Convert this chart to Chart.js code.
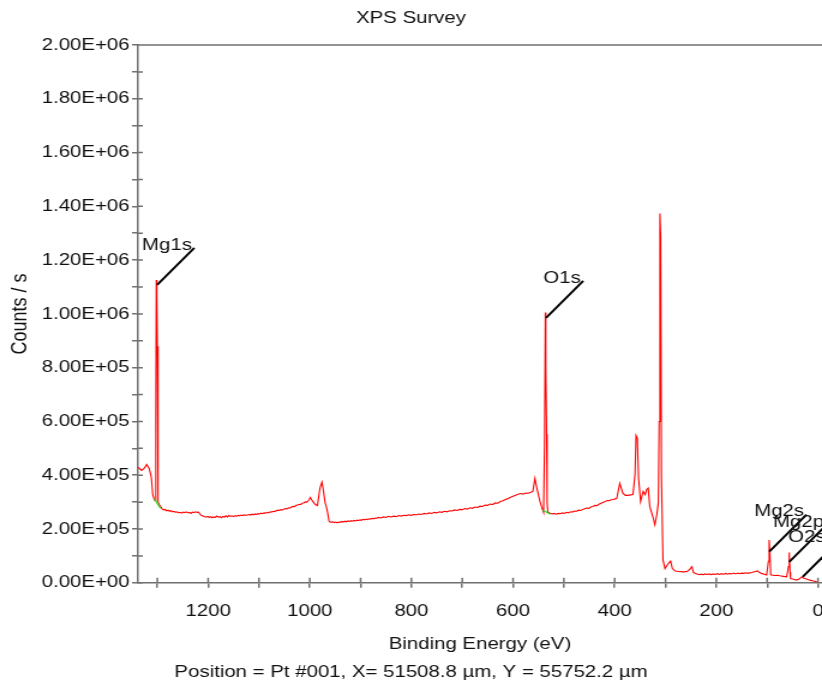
<!DOCTYPE html>
<html>
<head>
<meta charset="utf-8">
<title>XPS Survey</title>
<script src="https://cdn.jsdelivr.net/npm/chart.js@4/dist/chart.umd.min.js"></script>
<style>
  body { margin: 0; background: #fff; }
  /* the original picture is stretched sideways, so the canvas is too */
  #survey { display: block; width: 822px; height: 683px; }
</style>
</head>
<body>
<canvas id="survey" width="685" height="683" style="width:822px;height:683px"></canvas>
<script>
// binding energy (eV) and counts/s
var bindingEnergy = [
  1338, 1331, 1326, 1321, 1316, 1312, 1309, 1306, 1304.5, 1303, 1302, 1301, 1300, 1299, 1298, 1296,
  1291, 1288, 1285, 1282, 1279, 1276, 1273, 1270, 1267, 1264, 1261, 1258, 1255, 1252, 1249, 1246,
  1243, 1240, 1237, 1234, 1231, 1228, 1225, 1222, 1219, 1216, 1213, 1210, 1207, 1204, 1201, 1198,
  1195, 1192, 1189, 1186, 1183, 1180, 1177, 1174, 1171, 1168, 1165, 1162, 1159, 1156, 1153, 1150,
  1147, 1144, 1141, 1138, 1135, 1132, 1129, 1126, 1123, 1120, 1117, 1114, 1111, 1108, 1105, 1102,
  1099, 1096, 1093, 1090, 1087, 1084, 1081, 1078, 1075, 1072, 1069, 1066, 1063, 1060, 1057, 1054,
  1051, 1048, 1045, 1042, 1039, 1036, 1033, 1030, 1027, 1024, 1021, 1018, 1015, 1012, 1009, 1006,
  1003, 1001, 999, 996, 993, 989, 985, 980, 976, 974, 970, 966, 962, 958, 955, 952,
  949, 946, 943, 940, 937, 934, 931, 928, 925, 922, 919, 916, 913, 910, 907, 904,
  901, 898, 895, 892, 889, 886, 883, 880, 877, 874, 871, 868, 865, 860, 855, 850,
  845, 840, 835, 830, 825, 820, 815, 810, 805, 800, 795, 790, 785, 780, 775, 770,
  765, 760, 755, 750, 745, 740, 735, 730, 725, 720, 715, 710, 705, 700, 695, 690,
  685, 680, 675, 670, 665, 660, 655, 650, 645, 640, 635, 630, 625, 620, 615, 610,
  605, 600, 595, 590, 585, 580, 575, 570, 565, 561, 557, 553, 547, 542, 540, 538,
  536.5, 535.5, 534, 533, 531.5, 527, 523, 519, 515, 511, 507, 503, 499, 495, 491, 487,
  483, 479, 475, 471, 467, 463, 459, 455, 451, 447, 443, 439, 435, 431, 427, 423,
  419, 415, 411, 407, 403, 399, 396, 390, 384, 379, 374, 369, 364, 360, 358, 355.5,
  353, 349, 344, 340, 337, 334, 331, 324, 321, 317, 314, 312.5, 311, 309.5, 308, 305,
  301, 294.5, 290, 286.5, 281, 276, 272, 268, 265, 261, 258, 255, 252, 248, 245, 241,
  238, 234, 230, 226, 222, 218, 214, 210, 206, 202, 198, 194, 190, 186, 182, 178,
  174, 170, 166, 162, 158, 154, 150, 146, 142, 138, 134, 130, 127, 123, 119, 115,
  111, 106, 101, 97.5, 96, 94.5, 93, 86, 80, 75, 68, 61.5, 58, 56.5, 55, 54,
  48, 42, 37, 32, 29, 25.5, 20, 16, 9, 2.5, 0
];
var counts = [
  430000, 418000, 425000, 440000, 425000, 395000, 328000, 310000, 305000, 620000, 1126000, 1067000, 880000, 365000, 300000, 290000,
  276000, 271000, 273000, 268000, 270000, 266000, 268000, 264000, 266000, 262000, 264000, 260000, 262000, 259000, 263000, 261000,
  264000, 260000, 262000, 258000, 263000, 261000, 264000, 262000, 263000, 255000, 250000, 248000, 246000, 244000, 247000, 243000,
  246000, 242000, 245000, 243000, 248000, 244000, 246000, 242000, 247000, 244000, 249000, 245000, 250000, 247000, 249000, 246000,
  250000, 247000, 251000, 249000, 252000, 250000, 253000, 251000, 252000, 254000, 252000, 255000, 253000, 256000, 254000, 257000,
  256000, 259000, 257000, 260000, 259000, 262000, 260000, 264000, 263000, 266000, 265000, 268000, 270000, 269000, 272000, 271000,
  274000, 276000, 275000, 279000, 278000, 282000, 284000, 283000, 288000, 289000, 292000, 291000, 296000, 297000, 301000, 300000,
  305000, 310000, 317000, 308000, 300000, 291000, 287000, 352000, 374000, 352000, 300000, 272000, 228000, 225000, 227000, 224000,
  226000, 223000, 226000, 225000, 228000, 226000, 229000, 227000, 230000, 228000, 231000, 229000, 232000, 230000, 233000, 232000,
  234000, 233000, 236000, 234000, 237000, 235000, 238000, 237000, 240000, 238000, 241000, 240000, 243000, 241000, 245000, 243000,
  247000, 245000, 248000, 246000, 250000, 248000, 251000, 250000, 253000, 251000, 254000, 253000, 256000, 254000, 258000, 256000,
  260000, 258000, 262000, 260000, 264000, 262000, 266000, 264000, 268000, 267000, 271000, 269000, 273000, 272000, 276000, 274000,
  279000, 277000, 282000, 280000, 285000, 284000, 289000, 288000, 293000, 291000, 297000, 296000, 302000, 305000, 310000, 313000,
  318000, 322000, 326000, 329000, 332000, 330000, 334000, 333000, 337000, 340000, 388000, 351000, 302000, 272000, 262000, 520000,
  1005000, 806000, 552000, 300000, 262000, 259000, 256000, 258000, 255000, 258000, 257000, 260000, 258000, 262000, 260000, 264000,
  263000, 267000, 266000, 270000, 269000, 273000, 275000, 278000, 277000, 282000, 284000, 288000, 287000, 292000, 296000, 299000,
  302000, 306000, 305000, 309000, 310000, 312000, 313000, 370000, 333000, 325000, 325000, 327000, 328000, 403000, 548000, 538000,
  389000, 302000, 340000, 328000, 347000, 352000, 284000, 240000, 216000, 254000, 300000, 600000, 1373000, 1290000, 400000, 85000,
  53000, 72000, 81000, 53000, 44000, 43000, 41000, 42000, 40000, 42000, 41000, 45000, 51000, 60000, 38000, 35000,
  33000, 30000, 32000, 30000, 33000, 31000, 33000, 30000, 33000, 31000, 34000, 31000, 34000, 32000, 35000, 32000,
  35000, 33000, 36000, 33000, 36000, 34000, 36000, 35000, 37000, 35000, 37000, 38000, 40000, 42000, 44000, 38000,
  35000, 32000, 29000, 80000, 159000, 110000, 30000, 27000, 28000, 26000, 24000, 22000, 60000, 113000, 40000, 16000,
  13000, 10000, 14000, 22000, 18000, 16000, 12000, 10000, 7000, 4000, 3000
];

// green background markers at the base of the two main peaks
var mg1sBaseEnergy = [1306, 1294];
var mg1sBaseCounts = [313000, 277000];
var o1sBaseEnergy = [541.6, 527];
var o1sBaseCounts = [271000, 255000];

// peak labels and where their leader lines start
var peakNames = ['Mg1s', 'O1s', 'Mg2s', 'Mg2p', 'O2s'];
var peakEnergy = [1300.4, 535.1, 95.8, 56.5, 30.1];
var peakCounts = [1108000, 985000, 116000, 78000, 22000];

var xTicks = [0, 100, 200, 300, 400, 500, 600, 700, 800, 900, 1000, 1100, 1200, 1300];
var xLabelled = [0, 200, 400, 600, 800, 1000, 1200];
var yLabelStep = 200000;

var axisColor = '#707070';
var fontFamily = '"Liberation Sans", Arial, sans-serif';

Chart.defaults.font.family = fontFamily;
Chart.defaults.font.size = 17;
Chart.defaults.color = '#111';

function toPoints(xs, ys) {
  return xs.map(function (x, i) { return { x: x, y: ys[i] }; });
}

function sciLabel(v) {
  var parts = v.toExponential(2).split('e');
  var exp = parseInt(parts[1], 10);
  var sign = exp < 0 ? '-' : '+';
  var digits = String(Math.abs(exp));
  if (digits.length < 2) digits = '0' + digits;
  return parts[0] + 'E' + sign + digits;
}

// inner half of the tick marks, the top frame line and the peak labels
var axisMarks = {
  id: 'axisMarks',
  afterDatasetsDraw: function (chart) {
    var ctx = chart.ctx;
    var a = chart.chartArea;
    var x = chart.scales.x;
    var y = chart.scales.y;
    ctx.save();
    ctx.strokeStyle = axisColor;
    ctx.lineWidth = 1.5;
    ctx.beginPath();
    ctx.moveTo(a.left, a.top);
    ctx.lineTo(a.right, a.top);
    x.ticks.forEach(function (t) {
      var px = x.getPixelForValue(t.value);
      ctx.moveTo(px, a.bottom);
      ctx.lineTo(px, a.bottom - 5);
    });
    y.ticks.forEach(function (t) {
      var py = y.getPixelForValue(t.value);
      ctx.moveTo(a.left, py);
      ctx.lineTo(a.left + 4, py);
    });
    ctx.stroke();

    ctx.strokeStyle = '#000';
    ctx.lineWidth = 2;
    ctx.fillStyle = '#111';
    ctx.font = '17px ' + fontFamily;
    ctx.textAlign = 'right';
    ctx.textBaseline = 'middle';
    peakNames.forEach(function (name, i) {
      var sx = x.getPixelForValue(peakEnergy[i]);
      var sy = y.getPixelForValue(peakCounts[i]);
      var ex = sx + 31;
      var ey = sy - 37;
      ctx.beginPath();
      ctx.moveTo(sx, sy);
      ctx.lineTo(ex, ey);
      ctx.stroke();
      // labels near the right edge are pulled back so they stay mostly visible
      ctx.fillText(name, Math.min(ex - 2, chart.width + 3), ey - 3);
    });
    ctx.restore();
  }
};

var chart = new Chart(document.getElementById('survey'), {
  type: 'line',
  data: {
    datasets: [
      {
        data: toPoints(mg1sBaseEnergy, mg1sBaseCounts),
        borderColor: '#22dd22',
        borderWidth: 1.2,
        pointRadius: 0,
        order: 0
      },
      {
        data: toPoints(o1sBaseEnergy, o1sBaseCounts),
        borderColor: '#22dd22',
        borderWidth: 1.2,
        pointRadius: 0,
        order: 0
      },
      {
        data: toPoints(bindingEnergy, counts),
        borderColor: '#ff0000',
        borderWidth: 1.1,
        pointRadius: 0,
        tension: 0,
        order: 1
      }
    ]
  },
  options: {
    responsive: false,
    animation: false,
    devicePixelRatio: 1,
    layout: { padding: 0 },
    plugins: {
      legend: { display: false },
      tooltip: { enabled: false },
      title: {
        display: true,
        text: 'XPS Survey',
        font: { size: 17, weight: 'normal' },
        padding: { top: 8, bottom: 16.6 }
      },
      subtitle: {
        display: true,
        position: 'bottom',
        text: 'Position = Pt #001, X= 51508.8 \u00b5m, Y = 55752.2 \u00b5m',
        font: { size: 17, weight: 'normal' },
        padding: { top: 7.6, bottom: 0 }
      }
    },
    scales: {
      x: {
        type: 'linear',
        reverse: true,
        min: -8,
        max: 1338,
        border: { color: axisColor, width: 1.5 },
        grid: { drawOnChartArea: false, tickLength: 5, color: axisColor, lineWidth: 1.5 },
        afterBuildTicks: function (s) {
          s.ticks = xTicks.map(function (v) { return { value: v }; });
        },
        afterFit: function (s) {
          s.paddingLeft = 0;
          s.paddingRight = 0;
        },
        ticks: {
          autoSkip: false,
          maxRotation: 0,
          padding: 13,
          callback: function (v) {
            return xLabelled.indexOf(v) >= 0 ? String(v) : '';
          }
        },
        title: {
          display: true,
          text: 'Binding Energy (eV)',
          padding: { top: 0.4, bottom: 0 }
        }
      },
      y: {
        min: 0,
        max: 2000000,
        border: { color: axisColor, width: 1.5 },
        grid: { drawOnChartArea: false, tickLength: 5, color: axisColor, lineWidth: 1.5 },
        afterFit: function (s) { s.width = 115; },
        ticks: {
          stepSize: 100000,
          autoSkip: false,
          padding: 2,
          callback: function (v) {
            return Math.round(v / 100000) % (yLabelStep / 100000) === 0 ? sciLabel(v) : '';
          }
        },
        title: {
          display: true,
          text: 'Counts / s',
          font: { size: 18 },
          padding: { top: 6, bottom: 0 }
        }
      }
    }
  },
  plugins: [axisMarks]
});
</script>
</body>
</html>
